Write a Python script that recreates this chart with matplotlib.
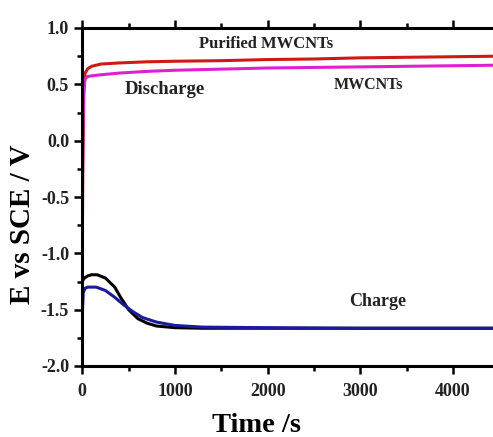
import matplotlib
matplotlib.use("Agg")
import matplotlib.pyplot as plt
from matplotlib.ticker import MultipleLocator

# Discharge curves
t_dis = [0, 5, 15, 30, 60, 100, 200, 400, 700, 1000, 1500, 2000, 2500, 3000, 3500, 4000, 4500, 5000]
e_purified = [-1.0, -0.3, 0.4, 0.6, 0.64, 0.66, 0.68, 0.69, 0.70, 0.705, 0.71, 0.72, 0.725, 0.735, 0.74, 0.745, 0.75, 0.75]
e_mwcnt = [-0.5, 0.0, 0.45, 0.55, 0.57, 0.575, 0.585, 0.60, 0.615, 0.625, 0.635, 0.645, 0.65, 0.655, 0.66, 0.665, 0.67, 0.67]

# Charge curves
t_ch_black = [0, 20, 60, 100, 160, 250, 350, 420, 500, 600, 700, 800, 1000, 1300, 2000, 3000, 4000, 5000]
e_ch_black = [-1.25, -1.22, -1.20, -1.19, -1.19, -1.22, -1.30, -1.40, -1.50, -1.58, -1.62, -1.645, -1.66, -1.665, -1.665, -1.665, -1.665, -1.665]
t_ch_blue = [0, 10, 30, 60, 150, 250, 350, 450, 550, 650, 800, 1000, 1300, 2000, 3000, 4000, 5000]
e_ch_blue = [-1.55, -1.35, -1.31, -1.30, -1.30, -1.33, -1.39, -1.46, -1.52, -1.57, -1.61, -1.64, -1.655, -1.66, -1.665, -1.665, -1.665]

xticks = [0, 1000, 2000, 3000, 4000]
yticks = [-2.0, -1.5, -1.0, -0.5, 0.0, 0.5, 1.0]

SERIF = ["Liberation Serif", "DejaVu Serif"]

fig = plt.figure(figsize=(4.93, 4.37), dpi=100)
W, H = 493, 437
left, right_px_per = 82.3, 0.09265
ax = fig.add_axes([left / W, 71 / H, 5000 * right_px_per / W, 338 / H])

ax.plot(t_dis, e_purified, color="#d01818", lw=2.2)
ax.plot(t_dis, e_mwcnt, color="#e020d0", lw=2.2)
ax.plot(t_ch_black, e_ch_black, color="black", lw=2.2)
ax.plot(t_ch_blue, e_ch_blue, color="#1a1aa0", lw=2.2)

ax.set_xlim(0, 5000)
ax.set_ylim(-2.0, 1.0)
ax.set_xticks(xticks)
ax.set_yticks(yticks)
ax.set_yticklabels([f"{v:.1f}" for v in yticks])
ax.xaxis.set_minor_locator(MultipleLocator(500))
ax.yaxis.set_minor_locator(MultipleLocator(0.25))
ax.tick_params(which="both", direction="out", top=True, right=False, width=1.8,
               labelsize=13, colors="black")
ax.tick_params(which="major", length=6)
ax.tick_params(which="minor", length=3.5)
ax.tick_params(axis="x", which="major", pad=6.5)
for lab in ax.get_xticklabels() + ax.get_yticklabels():
    lab.set_family(SERIF)
    lab.set_fontweight("bold")
    lab.set_color("#222222")
for s in ["left", "bottom", "top"]:
    ax.spines[s].set_linewidth(2.2)
ax.spines["right"].set_visible(False)

ax.set_xlabel("Time /s", family=SERIF, fontweight="bold", fontsize=20.5)
ax.set_ylabel("E vs SCE / V", family=SERIF, fontweight="bold", fontsize=21)
ax.xaxis.set_label_coords(0.377, -0.14)
ax.yaxis.set_label_coords(-0.10, 0.42)

kw = dict(family=SERIF, fontweight="bold", ha="center", va="center", color="#222222")
ax.text(893, 0.458, "Discharge", fontsize=13.5, **kw)
ax.text(1983, 0.858, "Purified MWCNTs", fontsize=12, **kw)
ax.text(3084, 0.494, "MWCNTs", fontsize=11.5, **kw)
ax.text(3192, -1.43, "Charge", fontsize=13, **kw)

fig.savefig("out.png", dpi=100)
